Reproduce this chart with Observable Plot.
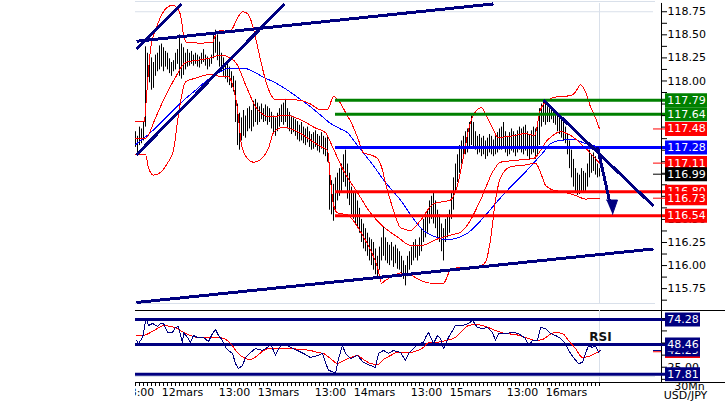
<!DOCTYPE html>
<html><head><meta charset="utf-8">
<script src="https://cdn.jsdelivr.net/npm/d3@7"></script>
<script src="https://cdn.jsdelivr.net/npm/@observablehq/plot@0.6"></script>
<style>
html,body{margin:0;padding:0;background:#fff;}
#wrap{position:relative;width:725px;height:406px;overflow:hidden;background:#fff;}
#wrap svg{position:absolute;left:0;top:0;}
#cover{position:absolute;left:0;top:0;width:135px;height:406px;background:#fff;}
</style></head><body><div id="wrap"></div>
<script>
// ---------- DATA (30-min bars, index 0 = 11mars 12:00) ----------
const high = [117.45,117.40,117.50,117.48,117.55,118.37,118.30,118.22,118.25,118.20,
118.28,118.30,118.38,118.40,118.36,118.32,118.30,118.24,118.20,118.22,
118.30,118.34,118.50,118.40,118.36,118.30,118.34,118.30,118.32,118.28,
118.30,118.28,118.26,118.30,118.34,118.28,118.26,118.24,118.28,118.52,
118.55,118.50,118.42,118.30,118.25,118.20,118.18,118.15,118.10,118.05,
118.00,117.75,117.65,117.60,117.68,117.62,117.70,117.72,117.68,117.78,
117.80,117.76,117.72,117.75,117.70,117.74,117.72,117.70,117.66,117.62,
117.60,117.65,117.70,117.74,117.76,117.80,117.70,117.66,117.62,117.60,
117.58,117.56,117.52,117.55,117.50,117.48,117.50,117.45,117.42,117.44,
117.46,117.42,117.40,117.44,117.40,117.38,117.40,117.05,116.92,116.88,
116.95,117.00,117.05,117.10,117.20,117.25,117.10,117.00,116.85,116.80,
116.78,116.70,116.62,116.50,116.45,116.40,116.35,116.30,116.28,116.25,
116.18,116.10,116.20,116.30,116.42,116.30,116.25,116.22,116.25,116.20,
116.22,116.18,116.15,116.10,116.05,116.00,116.10,116.15,116.20,116.25,
116.28,116.22,116.30,116.40,116.50,116.55,116.60,116.70,116.75,116.80,
116.70,116.60,116.55,116.45,116.40,116.50,116.55,116.60,116.80,116.95,
117.10,117.20,117.30,117.35,117.40,117.45,117.48,117.55,117.62,117.55,
117.45,117.40,117.42,117.38,117.40,117.35,117.38,117.42,117.40,117.36,
117.40,117.44,117.48,117.50,117.55,117.45,117.40,117.44,117.48,117.45,
117.42,117.46,117.50,117.48,117.50,117.52,117.45,117.42,117.46,117.50,
117.48,117.55,117.70,117.75,117.79,117.76,117.72,117.70,117.72,117.68,
117.66,117.62,117.60,117.58,117.55,117.50,117.42,117.35,117.25,117.15,
117.05,117.00,116.98,117.05,117.02,117.00,117.10,117.25,117.20,117.22,
117.18,117.10,117.05];
const low = [117.28,117.22,117.30,117.32,117.35,117.50,117.95,117.98,117.90,117.92,
118.05,118.10,118.12,118.15,118.10,118.15,118.12,118.08,118.05,118.10,
118.12,118.18,118.05,118.02,118.06,118.12,118.15,118.16,118.18,118.16,
118.18,118.15,118.14,118.18,118.20,118.16,118.12,118.15,118.18,118.24,
118.30,118.22,118.15,118.10,118.05,118.02,117.98,117.95,117.92,117.88,
117.55,117.30,117.25,117.35,117.40,117.38,117.45,117.48,117.45,117.50,
117.55,117.52,117.55,117.58,117.55,117.56,117.52,117.55,117.48,117.42,
117.40,117.45,117.50,117.55,117.52,117.55,117.48,117.45,117.42,117.44,
117.40,117.36,117.34,117.35,117.32,117.30,117.33,117.28,117.25,117.26,
117.28,117.24,117.22,117.26,117.20,117.18,117.12,116.60,116.55,116.48,
116.58,116.70,116.75,116.80,116.90,116.85,116.72,116.65,116.55,116.50,
116.45,116.40,116.35,116.25,116.18,116.15,116.10,116.05,116.00,115.95,
115.90,115.88,115.95,116.05,116.10,116.05,116.02,116.00,116.05,115.98,
116.02,115.96,115.95,115.90,115.85,115.78,115.88,115.95,116.00,116.05,
116.08,116.05,116.10,116.15,116.25,116.30,116.35,116.45,116.50,116.45,
116.40,116.30,116.25,116.15,116.05,116.25,116.30,116.35,116.50,116.60,
116.80,116.90,117.00,117.10,117.15,117.20,117.22,117.28,117.30,117.28,
117.25,117.20,117.22,117.18,117.20,117.15,117.18,117.22,117.20,117.18,
117.20,117.22,117.25,117.25,117.28,117.22,117.18,117.20,117.24,117.22,
117.18,117.22,117.25,117.22,117.20,117.24,117.18,117.14,117.20,117.22,
117.15,117.18,117.30,117.50,117.55,117.52,117.55,117.55,117.58,117.54,
117.52,117.45,117.42,117.38,117.35,117.32,117.20,117.05,116.95,116.85,
116.78,116.76,116.77,116.80,116.78,116.79,116.85,116.95,117.00,117.02,
116.98,116.95,116.96];

// Bollinger bands and moving average: [bar, price]
const bbUpper = [[0,117.56],[4.5,117.56],[5,117.69],[7.5,118.34],[10,118.55],[12.5,118.69],[15,118.78],[18.5,118.82],[21,118.79],[23,118.66],[24,118.50],[25.5,118.42],[32.5,118.41],[38.5,118.42],[40.5,118.52],[43.5,118.55],[45.5,118.52],[48.5,118.57],[51,118.68],[53.5,118.75],[56,118.73],[58,118.64],[60,118.47],[62.5,118.23],[65,118.01],[67.5,117.86],[70,117.80],[76,117.80],[82.5,117.79],[87.5,117.75],[92.5,117.69],[96,117.69],[99,117.83],[101.5,117.79],[105,117.66],[108.5,117.52],[111.5,117.36],[114,117.22],[117.5,117.20],[121,117.16],[123,117.07],[125.5,116.85],[129,116.60],[132.5,116.41],[137.5,116.38],[142.5,116.49],[149,116.67],[157.5,116.71],[161,116.87],[164,117.18],[166.5,117.47],[168.5,117.61],[171,117.69],[173,117.71],[176,117.60],[179,117.47],[181,117.39],[187.5,117.40],[195,117.43],[199.5,117.41],[202.5,117.69],[206,117.79],[211,117.83],[217.5,117.84],[220,117.88],[222.5,117.96],[225,117.88],[227.5,117.72],[230,117.60],[232,117.48]];
const bbMiddle = [[0,117.38],[5,117.38],[10,117.60],[15,117.84],[20,118.04],[25,118.20],[32.5,118.23],[37.5,118.25],[42.5,118.28],[47.5,118.25],[51,118.17],[55,117.96],[61,117.69],[67.5,117.61],[75,117.63],[82.5,117.58],[90,117.49],[95,117.44],[98,117.31],[104,117.03],[111,116.79],[117.5,116.57],[124,116.42],[131,116.31],[137.5,116.22],[143.5,116.22],[150,116.28],[157.5,116.33],[162.5,116.36],[166,116.44],[172.5,116.71],[179,117.03],[182.5,117.12],[190,117.14],[199,117.16],[206,117.36],[212.5,117.45],[217.5,117.41],[226,117.25],[232,117.11]];
const bbLower = [[0,117.20],[5,117.20],[6.5,117.06],[9,116.98],[12.5,117.01],[16,117.11],[19,117.25],[21,117.56],[23,117.83],[25,117.99],[30,118.03],[37.5,118.07],[42.5,118.05],[46,118.05],[48.5,117.96],[51,117.69],[53,117.31],[56,117.16],[59,117.12],[64,117.18],[66.5,117.27],[69,117.44],[74,117.50],[81,117.45],[87.5,117.36],[92.5,117.29],[96,117.25],[97.5,116.93],[99,116.66],[101,116.57],[106,116.55],[111,116.42],[114,116.31],[117.5,116.17],[121,115.98],[123,115.81],[125,115.84],[130,115.90],[132.5,115.92],[137.5,115.90],[142.5,115.84],[147.5,115.81],[154,115.81],[157.5,115.95],[162.5,115.98],[171,115.98],[175,116.04],[177.5,116.28],[180,116.71],[182.5,116.95],[187.5,117.07],[195,117.09],[200,117.11],[202.5,117.01],[205,116.87],[208.5,116.82],[213.5,116.80],[220,116.76],[225,116.72],[228.5,116.73],[232,116.73]];
const ma = [[0,117.31],[7.5,117.44],[15,117.60],[22.5,117.76],[30,117.90],[36,118.01],[42.5,118.10],[47.5,118.14],[54,118.14],[59,118.10],[64,118.04],[70,117.98],[76,117.90],[82.5,117.80],[87.5,117.72],[92.5,117.63],[97.5,117.54],[102.5,117.48],[106,117.44],[110,117.33],[114,117.22],[119,117.08],[124,116.93],[128.5,116.81],[132.5,116.71],[138.5,116.52],[144,116.38],[150,116.31],[156,116.28],[161,116.30],[166,116.35],[171,116.45],[176,116.57],[181.5,116.71],[187.5,116.85],[193.5,116.98],[199,117.11],[204,117.23],[207.5,117.32],[211,117.35],[214,117.36],[219,117.37],[224,117.33],[227.5,117.31],[232,117.28]];

// RSI and its signal line: [bar, value]
const rsi = [[0.5,52.6],[1.5,49.5],[3.5,55.7],[4,59.8],[5,73.3],[5.5,75.3],[6.5,68.1],[8.5,70.2],[11,67.1],[12.5,70.2],[14,70.2],[16,60.9],[18.5,60.9],[20,66.0],[21.5,67.1],[23.5,49.5],[24,60.9],[26,55.7],[27.5,50.5],[29,57.8],[31,55.7],[34,55.7],[36.5,51.6],[38.5,59.8],[40,64.0],[41.5,57.8],[43.5,52.6],[45,45.4],[46.5,42.3],[48.5,39.2],[50,28.8],[51.5,23.7],[53.5,26.8],[55,35.0],[57.5,40.2],[60,44.3],[63.5,42.3],[66,45.4],[67.5,49.5],[70,37.1],[71.5,44.3],[74,49.5],[77.5,45.4],[81,42.3],[84,39.2],[87.5,35.0],[91,37.1],[93.5,39.2],[95,29.9],[96.5,21.6],[98.5,20.6],[100,18.5],[101.5,34.0],[103.5,47.4],[105,39.2],[107.5,34.0],[111,37.1],[114,29.9],[117.5,26.8],[120,24.7],[121.5,39.2],[124,42.3],[126.5,39.2],[129,42.3],[132.5,40.2],[135,31.9],[136.5,39.2],[139,44.3],[141.5,49.5],[144,50.5],[145,55.7],[146.5,60.9],[149,49.5],[151,57.8],[152.5,54.7],[154,44.3],[156.5,55.7],[160,68.1],[163.5,68.1],[166.5,70.2],[168.5,73.3],[171,66.0],[173.5,65.0],[176,66.0],[178.5,60.9],[180,52.6],[181.5,59.8],[185,59.8],[188.5,60.9],[191.5,59.8],[195,54.7],[196.5,47.4],[198.5,52.6],[201,52.6],[202.5,66.0],[205,65.0],[207.5,59.8],[210,57.8],[212.5,54.7],[215,49.5],[216.5,42.3],[219,35.0],[221.5,28.8],[223.5,29.9],[225,39.2],[226.5,47.4],[228.5,45.4],[230,47.4],[231.5,40.2],[232.5,42.3]];
const rsiSignal = [[0.5,57.8],[4,57.8],[7.5,60.9],[11,65.0],[14,68.1],[17.5,67.1],[21,65.0],[24,60.9],[27.5,57.8],[31,55.7],[36,55.7],[41,55.7],[44,54.7],[47.5,49.5],[51,40.2],[54,35.0],[57.5,33.0],[61,37.1],[64,42.3],[67.5,44.3],[72.5,44.3],[77.5,44.3],[82.5,43.3],[87.5,42.3],[91,40.2],[94,39.2],[97.5,34.0],[101,28.8],[104,31.9],[107.5,35.0],[111,37.1],[114,33.0],[117.5,28.8],[121,27.8],[124,33.0],[127.5,37.1],[131,40.2],[134,40.2],[137.5,40.2],[141,42.3],[144,45.4],[146.5,50.5],[150,50.5],[155,52.6],[160,55.7],[163.5,62.9],[166.5,68.1],[170,69.1],[175,67.1],[180,62.9],[185,59.8],[190,58.8],[195,55.7],[200,52.6],[203.5,53.6],[206.5,57.8],[210,60.9],[213.5,59.8],[216.5,52.6],[220,44.3],[223.5,35.0],[226.5,36.1],[230,39.2],[232.5,42.3]];

// Horizontal levels
const priceLevels = [{v:117.79,c:"#008000"},{v:117.64,c:"#008000"},{v:117.28,c:"#0000ff"},{v:116.80,c:"#ff0000"},{v:116.54,c:"#ff0000"}];
const priceTags = [
  {v:117.79,c:"#008000",label:"117.79"},
  {v:117.64,c:"#008000",label:"117.64"},
  {v:117.48,c:"#ff0000",label:"117.48"},
  {v:117.28,c:"#0000ff",label:"117.28"},
  {v:117.11,c:"#ff0000",label:"117.11"},
  {v:116.99,c:"#000000",label:"116.99"},
  {v:116.80,c:"#ff0000",label:"116.80"},
  {v:116.73,c:"#ff0000",label:"116.73"},
  {v:116.54,c:"#ff0000",label:"116.54"}];
const priceMarkers = [{v:117.48,c:"#ff0000"},{v:117.11,c:"#ff0000"},{v:116.99,c:"#000000"},{v:116.73,c:"#ff0000"}];
const rsiLevels = [74.28, 48.46, 17.81];
const rsiTags = [{v:74.28,label:"74.28"},{v:42.25,label:"42.25",under:true},{v:48.46,label:"48.46"},{v:17.81,label:"17.81"}];
// axis labels that are not hidden behind the value tags
const priceAxisLabels = [118.75, 118.50, 118.25, 118.00, 116.50, 116.25, 116.00, 115.75];
const rsiAxisLabels = [25];

// Trend lines (bar, price)
const trendLines = [
  {x1:0.5,y1:118.43,x2:179,y2:118.835},
  {x1:0.5,y1:115.60,x2:259,y2:116.18},
  {x1:0.5,y1:118.35,x2:23,y2:118.835},
  {x1:0.5,y1:117.20,x2:74.5,y2:118.835},
  {x1:204,y1:117.79,x2:259,y2:116.645}];
const arrowShaft = [{x1:231,y1:117.284,x2:237,y2:116.70}];
const arrowHead = [[235.5,116.71],[241,116.71],[238.5,116.555]];

// X labels
const xLabels = [
  {i:2,label:"13:00"},{i:24,label:"12mars"},{i:50,label:"13:00"},{i:72,label:"13mars"},
  {i:98,label:"13:00"},{i:120,label:"14mars"},{i:146,label:"13:00"},{i:168,label:"15mars"},
  {i:194,label:"13:00"},{i:216,label:"16mars"}];
const lastBar = 232;
const rsiTitle = {x:232.5, v:55.7, text:"RSI"};

// ---------- CHART ----------
const NAVY = "#000080", LIGHT = "#d9e0ea", FONT = "DejaVu Sans";
const XEND = 263;
const box1 = XEND + 2, box2 = XEND + 23, box2r = XEND + 19.5;
const PY = [115.589, 118.861], RY = [9.24, 83.57];
const common = {width:725, height:406, marginLeft:135, marginRight:64,
  style:{fontFamily:FONT, fontSize:"11px", background:"transparent", overflow:"visible"}};
const bars = high.map((h,i) => ({i, high:h, low:low[i]}));
const ln = (data, stroke, w=1, curve="linear") => Plot.line(data, {x:d=>d[0], y:d=>d[1], stroke, strokeWidth:w, curve, shapeRendering:"crispEdges"});
const near = (list, d) => list.some(v => Math.abs(v - d) < 1e-6);

const priceTicks = d3.range(0, 27).map(k => 115.625 + k*0.125).filter(v => v <= PY[1]);
const rsiTicks = [12.5, 25, 37.5, 50, 62.5, 75];
const hourTicks = d3.range(0, lastBar + 1, 2);

const pricePlot = Plot.plot({
  ...common, marginTop:1, marginBottom:103,
  x:{domain:[0, XEND], axis:null, label:null},
  y:{domain:PY, label:null},
  marks:[
    Plot.ruleY([PY[1]], {x1:0, x2:260, stroke:LIGHT}),
    Plot.ruleY([118.75], {x1:0, x2:259, stroke:LIGHT}),
    Plot.ruleY([PY[0]], {x1:0, x2:260, stroke:LIGHT}),
    Plot.ruleX([lastBar], {y1:118.84, y2:PY[0], stroke:LIGHT}),
    Plot.ruleX(bars, {x:"i", y1:"low", y2:"high", stroke:"#000", strokeWidth:1}),
    ln(ma, "#0000ff", 1, "monotone-x"),
    ln(bbUpper, "#ff0000", 1, "monotone-x"),
    ln(bbMiddle, "#ff0000", 1, "monotone-x"),
    ln(bbLower, "#ff0000", 1, "monotone-x"),
    Plot.ruleY(priceLevels, {y:"v", x1:100, x2:box1, stroke:"c", strokeWidth:3}),
    Plot.link(trendLines, {x1:"x1", y1:"y1", x2:"x2", y2:"y2", stroke:NAVY, strokeWidth:3, shapeRendering:"crispEdges"}),
    Plot.link(arrowShaft, {x1:"x1", y1:"y1", x2:"x2", y2:"y2", stroke:NAVY, strokeWidth:3, shapeRendering:"crispEdges"}),
    Plot.line(arrowHead, {x:d=>d[0], y:d=>d[1], fill:NAVY, stroke:NAVY, strokeWidth:1}),
    Plot.ruleX([XEND], {y1:118.84, y2:PY[0], stroke:"#000"}),
    Plot.axisY({anchor:"right", label:null, ticks:priceTicks, tickSize:5, tickPadding:1,
      tickFormat:d => (near(priceAxisLabels, d) ? d.toFixed(2) : "")}),
    Plot.ruleY(priceMarkers, {y:"v", x1:259, x2:box1, stroke:"c", strokeWidth:1}),
    ...priceTags.flatMap(t => [
      Plot.ruleY([t], {y:"v", x1:box1, x2:box2, stroke:t.c, strokeWidth:14}),
      Plot.text([t], {x:(box1+box2)/2, y:"v", text:"label", fill:"#fff", fontSize:11})
    ])
  ]
});

const rsiPlot = Plot.plot({
  ...common, marginTop:310, marginBottom:24,
  x:{domain:[0, XEND], label:null},
  y:{domain:RY, label:null},
  marks:[
    Plot.ruleY([RY[1]], {x1:0, x2:295, stroke:"#000"}),
    Plot.ruleY([15.4], {x1:0, x2:260, stroke:LIGHT}),
    Plot.ruleX([lastBar], {y1:RY[1], y2:RY[0], stroke:LIGHT}),
    Plot.ruleX([XEND], {y1:90.8, y2:RY[0], stroke:"#000"}),
    Plot.ruleY(rsiLevels, {y:d=>d, x1:0, x2:box1, stroke:NAVY, strokeWidth:3}),
    ln(rsiSignal, "#ff0000", 1, "monotone-x"),
    ln(rsi, NAVY, 1),
    Plot.axisY({anchor:"right", label:null, ticks:rsiTicks, tickSize:5, tickPadding:1,
      tickFormat:d => (near(rsiAxisLabels, d) ? d.toFixed(2) : "")}),
    Plot.ruleY([42.25], {x1:259, x2:XEND, stroke:NAVY}),
    Plot.ruleY([41.0], {x1:259, x2:XEND, stroke:"#ff0000"}),
    ...rsiTags.flatMap(t => [
      Plot.ruleY([t], {y:"v", x1:box1, x2:box2r, stroke:NAVY, strokeWidth:14}),
      Plot.text([t], {x:(box1+box2r)/2, y:"v", text:"label", fill:"#fff", fontSize:11}),
      ...(t.under ? [Plot.ruleY([t.v - 6.9], {x1:box1, x2:box2r, stroke:"#ff0000", strokeWidth:1.5})] : [])
    ]),
    Plot.text([rsiTitle], {x:"x", y:"v", text:"text", fontWeight:"bold", fontSize:12, fill:"#111"}),
    Plot.ruleY([RY[0]], {x1:0, x2:295, stroke:"#000"}),
    Plot.axisX({ticks:hourTicks, label:null, tickSize:4, tickFormat:() => ""}),
    Plot.text(xLabels, {x:"i", text:"label", frameAnchor:"bottom", dy:13, dx:-1, fontSize:11}),
    Plot.text(["30Mn"], {x:277, frameAnchor:"bottom", dy:7.5, fontSize:11}),
    Plot.text(["USD/JPY"], {x:275, frameAnchor:"bottom", dy:16, fontSize:11})
  ]
});

const wrap = document.getElementById("wrap");
wrap.appendChild(pricePlot);
wrap.appendChild(rsiPlot);
const cover = document.createElement("div");
cover.id = "cover";
wrap.appendChild(cover);
</script></body></html>
